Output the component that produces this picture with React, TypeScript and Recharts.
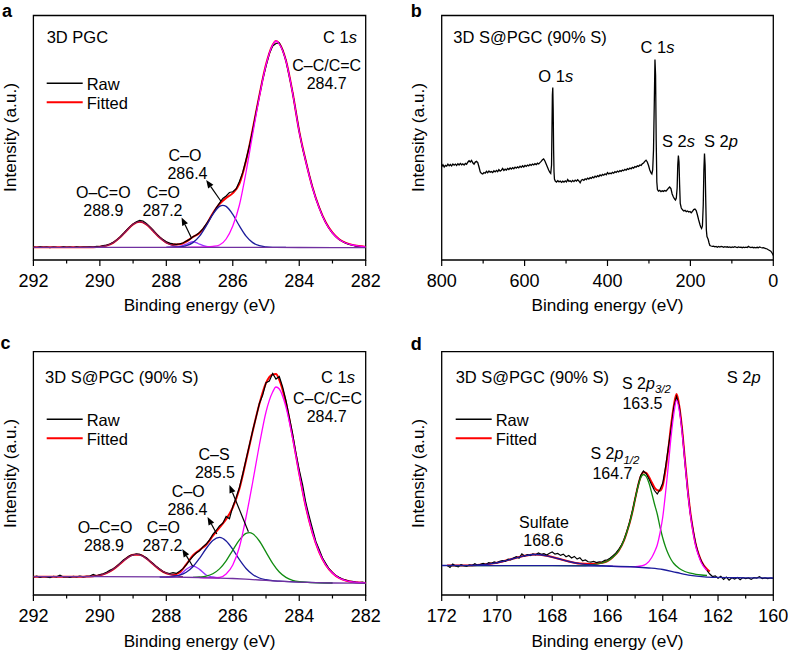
import React from 'react';
import { LineChart, Line, XAxis, YAxis, ReferenceArea, ReferenceLine } from 'recharts';

const FONT = '"Liberation Sans", Arial, Helvetica, sans-serif';

const C_RAW = '#000000';
const C_FIT = '#ff0000';
const C_MAG = '#ff00ff';
const C_NAVY = '#1c1c9c';
const C_VIOLET = '#9933ff';
const C_PURPLE = '#7030a0';
const C_OCO = '#8c1a5e';
const C_GREEN = '#118c11';

type Pt = [number, number];

// ---------- panel a : 3D PGC, C 1s (raw sampled every 0.1 eV from 292) ----------
const aRawV = [
  12.9, 12.5, 13.1, 12.6, 12.8, 12.4, 13.0, 12.7, 12.5, 13.2, 12.6, 12.9, 12.5, 13.1, 12.7, 13.0, 12.8, 13.2, 13.0, 13.6,
  13.4, 14.3, 14.9, 16.0, 17.6, 19.9, 22.9, 26.2, 29.9, 33.1, 36.0, 38.1, 39.6, 39.0, 36.6, 33.4, 30.2, 26.1, 23.0, 20.4,
  18.3, 16.9, 16.2, 15.6, 16.1, 17.0, 18.9, 20.6, 23.3, 25.0, 27.6, 31.2, 35.8, 41.0, 46.2, 52.0, 56.8, 61.5, 64.0, 67.5,
  68.2, 71.0, 78.5, 87.6, 100.5, 114.0, 130.0, 147.5, 164.0, 180.5, 194.0, 206.5, 214.0, 216.5, 217.0, 210.0, 199.5, 184.0, 167.5, 148.0,
  128.5, 112.0, 98.5, 85.0, 72.5, 61.5, 52.5, 44.0, 37.2, 31.5, 27.0, 23.4, 20.6, 18.5, 16.9, 15.6, 14.8, 13.9, 13.5, 13.0,
  12.6,
];
const aFit: Pt[] = [
  [292, 12.7], [290.6, 12.7], [290.4, 12.75], [290.2, 12.8], [290.0, 13.2], [289.8, 14.4], [289.6, 17.2], [289.4, 22.4],
  [289.2, 29.3], [289.0, 35.7], [288.8, 38.3], [288.6, 35.7], [288.4, 29.3], [288.2, 22.4], [288.0, 17.5], [287.8, 15.5],
  [287.6, 15.7], [287.4, 18.5], [287.2, 23.0], [287.0, 27.0], [286.8, 35.3], [286.6, 46.7], [286.4, 56.0], [286.2, 62.0],
  [286.0, 66.9], [285.8, 76.4], [285.6, 99.2], [285.4, 130.7], [285.2, 164.6], [285.0, 195.4], [284.8, 215.0], [284.7, 219.0],
  [284.6, 216.5], [284.4, 199.5], [284.2, 167.5], [284.0, 128.5], [283.8, 98.5], [283.6, 72.5], [283.4, 52.5], [283.2, 37.5],
  [283.0, 27.3], [282.8, 20.8], [282.6, 17.2], [282.4, 15.1], [282.2, 13.9], [282.0, 13.1],
];
const aMain: Pt[] = [
  [287.4, 12.7], [287.0, 12.8], [286.8, 13.0], [286.6, 13.6], [286.4, 15.0], [286.2, 21.0], [286.0, 34.0], [285.8, 55.0],
  [285.6, 88.0], [285.4, 126.0], [285.2, 163.0], [285.0, 195.0], [284.8, 215.0], [284.7, 219.0], [284.6, 216.0], [284.4, 199.0],
  [284.2, 167.0], [284.0, 128.0], [283.8, 98.0], [283.6, 72.0], [283.4, 52.0], [283.2, 37.0], [283.0, 27.0], [282.8, 20.5],
  [282.6, 17.0], [282.4, 15.0], [282.2, 13.8], [282.0, 13.0],
];
const aCO: Pt[] = [
  [288.0, 12.7], [287.8, 12.8], [287.6, 13.1], [287.4, 14.3], [287.2, 17.4], [287.0, 23.9], [286.8, 34.1], [286.6, 45.6],
  [286.4, 53.6], [286.3, 54.7], [286.2, 53.6], [286.0, 45.6], [285.8, 34.1], [285.6, 23.9], [285.4, 17.4], [285.2, 14.3],
  [285.0, 13.1], [284.8, 12.7], [284.4, 12.6],
];
const aCdO: Pt[] = [
  [288.0, 12.7], [287.8, 12.8], [287.6, 13.5], [287.4, 15.8], [287.3, 17.3], [287.2, 18.3], [287.1, 17.3], [287.0, 15.8],
  [286.8, 13.5], [286.6, 12.8], [286.4, 12.7],
];
const aOCO: Pt[] = [
  [290.4, 12.7], [290.2, 12.8], [290.0, 13.2], [289.8, 14.4], [289.6, 17.2], [289.4, 22.4], [289.2, 29.3], [289.0, 35.7],
  [288.8, 38.3], [288.6, 35.7], [288.4, 29.3], [288.2, 22.4], [288.0, 17.2], [287.8, 14.4], [287.6, 13.2], [287.4, 12.8],
];
const aBase: Pt[] = [[292, 12.7], [287, 12.7], [284, 12.5], [282, 12.3]];

// ---------- panel b : survey ----------
const bSurvey: Pt[] = [
  [800, 93.5], [797, 95.2], [794, 93.0], [791, 94.6], [788, 93.8], [785, 95.8], [782, 94.2], [779, 95.5], [776, 94.0], [773, 96.0],
  [770, 94.8], [767, 95.9], [764, 94.5], [761, 96.3], [758, 95.0], [755, 96.6], [752, 95.2], [749, 96.1], [746, 94.9], [743, 96.5],
  [740, 95.6], [737, 97.8], [734, 99.2], [731, 98.0], [728, 99.6], [725, 97.2], [722, 95.8], [719, 97.9], [716, 98.6], [713, 97.5],
  [710, 93.0], [707, 88.0], [704, 86.5], [701, 86.0], [698, 87.5], [695, 86.8], [692, 88.6], [689, 87.2], [686, 89.0], [683, 87.8],
  [680, 88.4], [677, 87.4], [674, 89.2], [671, 88.1], [668, 89.6], [665, 88.3], [662, 90.4], [659, 88.9], [656, 89.8], [653, 91.5],
  [650, 89.6], [647, 90.8], [644, 89.9], [641, 91.6], [638, 90.5], [635, 92.0], [632, 90.9], [629, 92.4], [626, 91.3], [623, 92.9],
  [620, 91.8], [617, 93.1], [614, 92.2], [611, 93.8], [608, 92.6], [605, 94.2], [602, 93.0], [599, 94.5], [596, 93.6], [593, 95.0],
  [590, 94.1], [587, 95.6], [584, 94.6], [581, 96.0], [578, 95.1], [575, 96.3], [572, 95.4], [569, 96.8], [566, 96.0], [563, 97.4],
  [560, 98.6], [557, 100.2], [554, 101.0], [551, 99.0], [548, 96.0], [545, 93.0], [542, 90.0], [539, 87.5], [537, 86.5], [535, 95],
  [534, 130], [533, 165], [532, 172.5], [531, 150], [530, 110], [529, 88], [528, 81], [526, 79.0], [523, 78.0], [520, 79.4],
  [517, 78.2], [514, 79.0], [511, 77.6], [508, 78.8], [505, 77.9], [502, 79.2], [499, 78.0], [496, 80.4], [493, 78.6], [490, 79.3],
  [487, 78.1], [484, 79.6], [481, 78.4], [478, 79.9], [475, 78.8], [472, 80.2], [469, 79.0], [466, 77.2], [463, 79.8], [460, 80.5],
  [457, 79.6], [454, 81.2], [451, 80.4], [448, 81.9], [445, 80.9], [442, 82.4], [439, 81.6], [436, 83.1], [433, 82.2], [430, 83.8],
  [427, 82.9], [424, 84.4], [421, 83.5], [418, 85.0], [415, 84.1], [412, 85.6], [409, 84.8], [406, 86.2], [403, 85.2], [400, 87.4],
  [397, 86.0], [394, 86.9], [391, 86.2], [388, 87.6], [385, 86.8], [382, 88.3], [379, 87.5], [376, 88.9], [373, 88.0], [370, 89.4],
  [367, 88.6], [364, 90.0], [361, 89.3], [358, 90.6], [355, 89.8], [352, 91.3], [349, 90.5], [346, 92.0], [343, 91.2], [340, 92.6],
  [337, 91.9], [334, 93.4], [331, 92.8], [328, 94.2], [325, 93.6], [322, 95.0], [319, 94.6], [316, 96.2], [313, 97.0], [310, 98.6],
  [307, 99.8], [304, 98.0], [301, 94.5], [298, 90.0], [295, 87.0], [293, 86.0], [291, 90.0], [289, 110], [287, 160], [285.5, 200.5],
  [284, 185], [282.5, 120], [281, 78], [279.5, 70.5], [277, 68.8], [274, 69.6], [271, 68.4], [268, 69.2], [265, 68.6], [262, 69.5],
  [259, 68.9], [256, 70.2], [253, 71.8], [250, 73.0], [247, 71.5], [244, 66.0], [241, 63.0], [238, 61.0], [236, 60.0], [234, 62.0],
  [232, 72], [230.5, 95], [229, 104.5], [227.5, 98], [226, 75], [224.5, 56.5], [222, 52.0], [219, 50.2], [216, 49.0], [213, 49.6],
  [210, 48.4], [207, 49.0], [204, 47.9], [201, 48.5], [198, 47.2], [195, 48.6], [192, 50.4], [189, 51.0], [186, 49.5], [183, 45.0],
  [180, 40.0], [177, 35.5], [175, 33.0], [173, 31.5], [171, 34.0], [169, 55], [167.5, 90], [166, 106.5], [164.5, 95], [163, 60],
  [161.5, 30], [160, 23.5], [158.5, 22.0], [157, 20.5], [155, 17.0], [153, 14.5], [150, 14.0], [147, 13.6], [144, 13.9], [141, 13.2],
  [138, 13.6], [135, 12.8], [132, 13.5], [129, 13.0], [126, 13.6], [123, 13.3], [120, 12.7], [117, 13.4], [114, 12.9], [111, 13.2],
  [108, 12.6], [105, 13.1], [102, 12.4], [99, 13.0], [96, 12.7], [93, 13.3], [90, 12.8], [87, 12.4], [84, 13.0], [81, 12.6],
  [78, 12.9], [75, 12.3], [72, 12.8], [69, 12.4], [66, 12.9], [63, 12.5], [60, 13.6], [57, 12.8], [54, 12.4], [51, 12.9],
  [48, 12.3], [45, 12.6], [42, 12.2], [39, 12.7], [36, 12.3], [33, 13.0], [30, 12.5], [27, 12.1], [24, 12.4], [21, 11.8],
  [18, 11.5], [15, 11.0], [12, 10.2], [9, 9.5], [6, 8.8], [3, 7.0], [1, 5.5], [0, 4.5],
];

// ---------- panel c : 3D S@PGC, C 1s (raw every 0.1 eV from 292) ----------
const cRawV = [
  18.0, 18.8, 17.6, 18.5, 18.1, 17.4, 18.7, 18.2, 19.9, 18.0, 18.4, 17.7, 18.6, 18.1, 18.9, 18.2, 18.7, 19.0, 20.5, 19.3,
  20.4, 21.2, 22.8, 24.6, 26.2, 28.5, 31.6, 34.9, 37.0, 39.4, 40.1, 41.2, 40.6, 39.0, 37.2, 34.0, 31.5, 28.4, 25.9, 23.4,
  22.2, 21.5, 22.3, 21.6, 23.8, 26.4, 30.2, 34.6, 38.7, 42.0, 44.2, 48.1, 51.0, 55.2, 60.6, 64.5, 69.0, 71.8, 78.6, 76.3,
  88.4, 97.2, 107.5, 121.0, 135.6, 149.8, 164.5, 177.6, 191.5, 200.0, 212.4, 214.0, 221.5, 216.0, 218.5, 208.0, 194.5, 178.0, 161.5, 142.0,
  125.0, 110.5, 92.0, 78.5, 66.0, 53.5, 45.5, 37.0, 31.5, 26.0, 22.6, 19.4, 17.6, 15.9, 15.0, 14.0, 13.6, 12.9, 12.5, 12.8,
  11.9,
];
const cFit: Pt[] = [
  [292, 18.3], [290.6, 18.35], [290.4, 18.4], [290.2, 18.8], [290.0, 19.7], [289.8, 21.9], [289.6, 25.6], [289.4, 31.0],
  [289.2, 36.6], [289.0, 40.2], [288.8, 40.2], [288.6, 36.6], [288.4, 30.9], [288.2, 25.4], [288.0, 21.6], [287.8, 20.2],
  [287.6, 22.5], [287.4, 30.6], [287.2, 39.5], [287.0, 45.0], [286.8, 50.3], [286.6, 59.1], [286.4, 67.4], [286.2, 75.9],
  [286.0, 87.5], [285.8, 106.2], [285.6, 134.5], [285.4, 163.9], [285.2, 191.0], [285.0, 212.0], [284.8, 220.5], [284.7, 221.0],
  [284.6, 215.2], [284.4, 192.2], [284.2, 158.6], [284.0, 121.5], [283.8, 88.0], [283.6, 62.0], [283.4, 43.0], [283.2, 30.0],
  [283.0, 22.0], [282.8, 17.0], [282.6, 14.5], [282.4, 13.0], [282.0, 12.0],
];
const cMain: Pt[] = [
  [287.0, 17.5], [286.6, 17.2], [286.4, 17.5], [286.2, 21.0], [286.0, 30.0], [285.8, 48.0], [285.6, 78.0], [285.4, 113.0],
  [285.2, 150.0], [285.0, 183.0], [284.8, 203.0], [284.7, 208.0], [284.6, 206.0], [284.4, 188.0], [284.2, 157.0], [284.0, 121.0],
  [283.8, 88.0], [283.6, 62.0], [283.4, 43.0], [283.2, 30.0], [283.0, 22.0], [282.8, 17.0], [282.6, 14.5], [282.4, 13.0],
  [282.0, 12.0],
];
const cCS: Pt[] = [
  [287.2, 17.6], [287.0, 18.0], [286.8, 18.9], [286.6, 21.3], [286.4, 26.1], [286.2, 34.2], [286.0, 44.8], [285.8, 55.1],
  [285.6, 61.6], [285.5, 62.3], [285.4, 61.2], [285.2, 54.0], [285.0, 42.9], [284.8, 31.7], [284.6, 23.0], [284.4, 17.6],
  [284.2, 14.7], [284.0, 13.3], [283.6, 12.4], [283.0, 12.0],
];
const cCO: Pt[] = [
  [288.2, 18.0], [288.0, 18.0], [287.8, 18.6], [287.6, 19.8], [287.4, 22.8], [287.2, 28.3], [287.0, 36.7], [286.8, 46.5],
  [286.6, 54.5], [286.4, 57.6], [286.2, 54.1], [286.0, 45.7], [285.8, 35.3], [285.6, 26.5], [285.4, 20.5], [285.2, 17.0],
  [285.0, 15.3], [284.8, 14.3], [284.6, 13.8], [283.0, 12.0],
];
const cCdO: Pt[] = [
  [288.0, 18.0], [287.8, 18.0], [287.6, 20.0], [287.4, 25.6], [287.2, 29.0], [287.0, 25.6], [286.8, 20.0], [286.6, 18.0],
  [286.4, 17.2],
];
const cOCO: Pt[] = [
  [290.5, 18.4], [290.3, 18.6], [290.1, 19.2], [289.9, 20.6], [289.7, 23.5], [289.5, 28.2], [289.3, 33.9], [289.1, 38.7],
  [288.9, 40.7], [288.7, 38.7], [288.5, 33.9], [288.3, 28.2], [288.1, 23.5], [287.9, 20.6], [287.7, 19.2], [287.5, 18.3],
];
const cBase: Pt[] = [
  [292, 18.3], [290, 18.3], [288, 18.0], [287, 17.5], [286, 16.5], [285.5, 15.6], [285, 14.6], [284.5, 13.6],
  [284, 12.8], [283.5, 12.3], [283, 12.0], [282, 11.7],
];

// ---------- panel d : 3D S@PGC, S 2p (raw every 0.1 eV from 171.8) ----------
const dRawV = [
  29.8, 27.6, 31.0, 29.0, 28.2, 30.4, 29.3, 28.6, 30.1, 29.4, 31.2, 29.8, 30.6, 31.7, 30.5, 32.4, 31.6, 33.0, 32.2, 33.8,
  34.5, 33.6, 35.8, 35.1, 36.9, 38.4, 36.8, 41.2, 39.0, 40.3, 39.5, 41.0, 40.2, 42.1, 40.6, 41.4, 40.0, 41.7, 43.0, 40.8,
  41.5, 39.6, 40.9, 38.2, 39.5, 37.0, 38.6, 35.9, 37.2, 34.1, 35.0, 33.2, 32.8, 33.5, 32.4, 33.1, 33.0, 34.6, 35.2, 37.0,
  39.4, 41.8, 45.3, 49.6, 55.6, 63.5, 72.8, 84.0, 96.5, 109.0, 119.5, 124.0, 121.5, 116.0, 110.0, 104.5, 101.0, 105.5, 112.0, 128.0,
  147.5, 166.0, 188.0, 198.5, 188.0, 165.0, 134.0, 104.5, 81.0, 64.5, 50.0, 40.0, 33.5, 28.5, 24.5, 21.0, 18.5, 19.2, 16.8, 18.6,
  15.5, 17.9, 14.8, 17.2, 16.0, 17.6, 15.2, 17.4, 16.3, 17.0, 15.6, 17.3, 16.9, 18.2, 16.5, 17.1, 16.4, 17.0, 16.6,
];
const dFit: Pt[] = [
  [171.8, 29.5], [171.0, 29.6], [170.6, 30.2], [170.2, 31.4], [169.8, 33.5], [169.4, 36.5], [169.0, 39.2], [168.6, 40.5],
  [168.2, 39.2], [167.8, 36.5], [167.4, 33.5], [167.0, 31.4], [166.6, 30.9], [166.2, 32.2], [166.0, 34.0], [165.8, 38.1],
  [165.6, 44.1], [165.4, 54.9], [165.3, 62.9], [165.2, 71.9], [165.1, 83.0], [165.0, 96.2], [164.9, 108.6], [164.8, 118.3],
  [164.7, 122.8], [164.6, 122.2], [164.5, 118.0], [164.4, 112.7], [164.3, 107.5], [164.2, 104.8], [164.1, 104.3], [164.0, 109.5],
  [163.9, 125.0], [163.8, 145.5], [163.7, 169.5], [163.6, 189.2], [163.5, 201.0], [163.4, 188.5], [163.3, 165.6], [163.2, 135.7],
  [163.1, 106.4], [163.0, 82.1], [162.9, 63.9], [162.8, 49.8], [162.7, 40.8], [162.6, 33.6], [162.4, 25.9], [162.3, 23.5],
];
const dSulfate: Pt[] = [
  [171.0, 29.6], [170.6, 30.2], [170.2, 31.4], [169.8, 33.5], [169.4, 36.5], [169.0, 39.2], [168.6, 40.5], [168.2, 39.2],
  [167.8, 36.5], [167.4, 33.5], [167.0, 31.3], [166.6, 30.0], [166.2, 29.3], [165.8, 28.7],
];
const dP12: Pt[] = [
  [171.8, 29.3], [167.0, 29.3], [166.6, 30.0], [166.2, 32.0], [166.0, 34.0], [165.8, 38.0], [165.6, 44.0], [165.4, 55.0],
  [165.3, 63.0], [165.2, 72.0], [165.1, 83.0], [165.0, 96.0], [164.9, 108.0], [164.8, 117.0], [164.7, 120.5], [164.6, 118.5],
  [164.5, 112.0], [164.4, 102.0], [164.3, 91.0], [164.2, 81.0], [164.1, 68.0], [164.0, 57.0], [163.9, 48.0], [163.8, 41.0],
  [163.7, 35.5], [163.6, 31.5], [163.4, 26.5], [163.2, 23.5], [163.0, 21.8], [162.8, 20.7], [162.6, 20.0], [162.4, 19.5],
];
const dP32: Pt[] = [
  [166.0, 28.8], [165.4, 28.4], [165.0, 28.4], [164.8, 29.0], [164.6, 31.0], [164.4, 37.5], [164.3, 43.0], [164.2, 50.0],
  [164.1, 62.0], [164.0, 78.0], [163.9, 102.0], [163.8, 129.0], [163.7, 158.0], [163.6, 181.0], [163.5, 195.0], [163.4, 184.0],
  [163.3, 162.0], [163.2, 133.0], [163.1, 104.0], [163.0, 80.0], [162.9, 62.0], [162.8, 48.0], [162.7, 39.0], [162.6, 32.0],
  [162.4, 24.5],
];
const dBase: Pt[] = [
  [172, 29.5], [168, 29.3], [166, 28.8], [165, 28.0], [164.5, 27.0], [164, 25.5], [163.5, 22.5], [163, 19.7],
  [162.5, 18.2], [162, 17.6], [161, 17.2], [160, 17.0],
];

const cTicks = [282, 283, 284, 285, 286, 287, 288, 289, 290, 291, 292];
const sTicks = [160, 161, 162, 163, 164, 165, 166, 167, 168, 169, 170, 171, 172];
const bTicks = [0, 100, 200, 300, 400, 500, 600, 700, 800];

const toPts = (arr: Pt[]) => arr.map(([e, v]) => ({ e, v }));
const gridPts = (start: number, vals: number[]) =>
  vals.map((v, i) => ({ e: Math.round((start - i * 0.1) * 100) / 100, v }));

const makeTick = (isMajor: (v: number) => boolean) => (props: any) => {
  const { x, y, payload } = props;
  const major = isMajor(payload.value);
  return (
    <g>
      <line x1={x} y1={y} x2={x} y2={y + (major ? 6 : 3.5)} stroke="#000" strokeWidth={1.2} />
      {major && (
        <text x={x} y={y + 27} textAnchor="middle" fontSize={18} fontFamily={FONT} fill="#000">
          {payload.value}
        </text>
      )}
    </g>
  );
};

const ArrowShape = (p: any) => {
  const { x1, y1, x2, y2 } = p;
  const ang = Math.atan2(y2 - y1, x2 - x1);
  const L = 8;
  const W = 3.2;
  const bx = x2 - L * Math.cos(ang);
  const by = y2 - L * Math.sin(ang);
  const pts = `${x2},${y2} ${bx - W * Math.sin(ang)},${by + W * Math.cos(ang)} ${bx + W * Math.sin(ang)},${by - W * Math.cos(ang)}`;
  return (
    <g>
      <line x1={x1} y1={y1} x2={bx} y2={by} stroke="#000" strokeWidth={1.2} />
      <polygon points={pts} fill="#000" />
    </g>
  );
};

interface SeriesDef {
  data: { e: number; v: number }[];
  color: string;
  width: number;
  linear?: boolean;
}

interface PanelProps {
  left: number;
  top: number;
  height: number;
  margin: { top: number; right: number; bottom: number; left: number };
  domain: [number, number];
  ticks: number[];
  isMajor: (v: number) => boolean;
  yMax: number;
  series: SeriesDef[];
  arrows?: [Pt, Pt][];
}

function Panel({ left, top, height, margin, domain, ticks, isMajor, yMax, series, arrows = [] }: PanelProps) {
  return (
    <div style={{ position: 'absolute', left, top }}>
      <LineChart width={394} height={height} margin={margin}>
        <XAxis
          type="number"
          dataKey="e"
          domain={domain}
          reversed
          allowDataOverflow
          ticks={ticks}
          interval={0}
          tickSize={0}
          tickMargin={0}
          tickLine={false}
          axisLine={false}
          height={40}
          tick={makeTick(isMajor)}
        />
        <YAxis type="number" hide domain={[0, yMax]} allowDataOverflow />
        <ReferenceArea
          x1={domain[0]}
          x2={domain[1]}
          y1={0}
          y2={yMax}
          fill="none"
          stroke="#000"
          strokeWidth={1.3}
          ifOverflow="visible"
        />
        {series.map((s, i) => (
          <Line
            key={i}
            data={s.data}
            dataKey="v"
            type={s.linear ? 'linear' : 'monotone'}
            stroke={s.color}
            strokeWidth={s.width}
            dot={false}
            activeDot={false}
            isAnimationActive={false}
          />
        ))}
        {arrows.map((a, i) => (
          <ReferenceLine
            key={'arrow' + i}
            segment={[{ x: a[0][0], y: a[0][1] }, { x: a[1][0], y: a[1][1] }]}
            ifOverflow="visible"
            shape={ArrowShape}
          />
        ))}
      </LineChart>
    </div>
  );
}

const T = ({ x, y, anchor = 'start', size = 16.5, bold = false, children }: any) => (
  <text x={x} y={y} textAnchor={anchor} fontSize={size} fontWeight={bold ? 'bold' : 'normal'} fontFamily={FONT} fill="#000">
    {children}
  </text>
);

// two-line annotation: each line its own text, 18px apart so their boxes don't collide
const T2 = ({ x1, y1, a1 = 'middle', l1, x2, y2, a2 = 'middle', l2 }: any) => (
  <g>
    <T x={x1} y={y1} anchor={a1} size={16}>{l1}</T>
    <T x={x2} y={y2} anchor={a2} size={16}>{l2}</T>
  </g>
);

const I = ({ children }: any) => <tspan fontStyle="italic">{children}</tspan>;

const YTitle = ({ x, y }: { x: number; y: number }) => (
  <text x={x} y={y} transform={`rotate(-90 ${x} ${y})`} textAnchor="middle" fontSize={17.2} fontFamily={FONT} fill="#000">
    Intensity (a.u.)
  </text>
);

const XTitle = ({ x, y }: { x: number; y: number }) => (
  <text x={x} y={y} textAnchor="middle" fontSize={17.2} fontFamily={FONT} fill="#000">
    Binding energy (eV)
  </text>
);

const LegendBox = ({ x, y }: { x: number; y: number }) => (
  <g>
    <line x1={x} y1={y} x2={x + 36} y2={y} stroke={C_RAW} strokeWidth={1.6} />
    <line x1={x} y1={y + 19} x2={x + 36} y2={y + 19} stroke={C_FIT} strokeWidth={2} />
    <T x={x + 40} y={y + 6.5}>Raw</T>
    <T x={x + 40} y={y + 25.5}>Fitted</T>
  </g>
);

const evenMajor = (v: number) => v % 2 === 0;
const surveyMajor = (v: number) => v % 200 === 0;

export default function App() {
  const rawA = gridPts(292, aRawV);
  const rawC = gridPts(292, cRawV);
  const rawD = gridPts(171.8, dRawV);

  return (
    <div style={{ position: 'relative', width: 788, height: 651, overflow: 'hidden', background: '#fff' }}>
      <style>{'body{margin:0;}'}</style>

      <Panel
        left={0}
        top={0}
        height={300}
        margin={{ top: 15.5, right: 28.3, bottom: 0, left: 33.4 }}
        domain={[282, 292]}
        ticks={cTicks}
        isMajor={evenMajor}
        yMax={244.5}
        series={[
          { data: toPts(aFit), color: C_FIT, width: 2 },
          { data: rawA, color: C_RAW, width: 1.2, linear: true },
          { data: toPts(aOCO), color: C_OCO, width: 1.3 },
          { data: toPts(aCdO), color: C_VIOLET, width: 1.3 },
          { data: toPts(aCO), color: C_NAVY, width: 1.3 },
          { data: toPts(aMain), color: C_MAG, width: 1.3 },
          { data: toPts(aBase), color: C_PURPLE, width: 1.3 },
        ]}
        arrows={[
          [[287.24, 21.7], [287.54, 42.5]],
          [[286.36, 59], [286.8, 80]],
        ]}
      />

      <Panel
        left={394}
        top={0}
        height={300}
        margin={{ top: 15.5, right: 14.7, bottom: 0, left: 47.7 }}
        domain={[0, 800]}
        ticks={bTicks}
        isMajor={surveyMajor}
        yMax={244.5}
        series={[{ data: toPts(bSurvey), color: C_RAW, width: 1.3, linear: true }]}
      />

      <Panel
        left={0}
        top={320}
        height={315}
        margin={{ top: 31.7, right: 28.3, bottom: 0, left: 33.4 }}
        domain={[282, 292]}
        ticks={cTicks}
        isMajor={evenMajor}
        yMax={243.3}
        series={[
          { data: toPts(cFit), color: C_FIT, width: 2 },
          { data: rawC, color: C_RAW, width: 1.2, linear: true },
          { data: toPts(cOCO), color: C_OCO, width: 1.3 },
          { data: toPts(cCdO), color: C_VIOLET, width: 1.3 },
          { data: toPts(cCO), color: C_NAVY, width: 1.3 },
          { data: toPts(cCS), color: C_GREEN, width: 1.3 },
          { data: toPts(cMain), color: C_MAG, width: 1.3 },
          { data: toPts(cBase), color: C_PURPLE, width: 1.3 },
        ]}
        arrows={[
          [[287.21, 29], [287.52, 46]],
          [[286.48, 61], [286.76, 78]],
          [[285.53, 63.3], [286.1, 110]],
        ]}
      />

      <Panel
        left={394}
        top={320}
        height={315}
        margin={{ top: 31.7, right: 14.7, bottom: 0, left: 47.7 }}
        domain={[160, 172]}
        ticks={sTicks}
        isMajor={evenMajor}
        yMax={243.3}
        series={[
          { data: toPts(dFit), color: C_FIT, width: 2 },
          { data: rawD, color: C_RAW, width: 1.2, linear: true },
          { data: toPts(dP12), color: C_GREEN, width: 1.3 },
          { data: toPts(dP32), color: C_MAG, width: 1.3 },
          { data: toPts(dSulfate), color: C_NAVY, width: 1.3 },
          { data: toPts(dBase), color: C_NAVY, width: 1.3 },
        ]}
      />

      <svg width={788} height={651} style={{ position: 'absolute', left: 0, top: 0, pointerEvents: 'none' }}>
        {/* panel a */}
        <T x={2} y={16.5} size={18} bold>a</T>
        <T x={46.7} y={43.3}>3D PGC</T>
        <T x={357} y={43.3} anchor="end">C 1<I>s</I></T>
        <T2 x1={326.7} y1={71} l1="C–C/C=C" x2={326.7} y2={89} l2="284.7" />
        <LegendBox x={46.7} y={83.3} />
        <T2 x1={185} y1={160.5} l1="C–O" x2={187.5} y2={178.5} l2="286.4" />
        <T2 x1={103.3} y1={197.5} l1="O–C=O" x2={103.3} y2={215.5} l2="288.9" />
        <T2 x1={163.3} y1={197.5} l1="C=O" x2={162.5} y2={215.5} l2="287.2" />
        <YTitle x={15.5} y={137.5} />
        <XTitle x={199.6} y={311} />

        {/* panel b */}
        <T x={410.7} y={16.5} size={18} bold>b</T>
        <T x={453.3} y={43.3}>3D S@PGC (90% S)</T>
        <T x={555.7} y={81.7} anchor="middle">O 1<I>s</I></T>
        <T x={657.5} y={53.3} anchor="middle">C 1<I>s</I></T>
        <T x={678.5} y={146.7} anchor="middle">S 2<I>s</I></T>
        <T x={721} y={146.7} anchor="middle">S 2<I>p</I></T>
        <YTitle x={423.5} y={137.5} />
        <XTitle x={607.5} y={311} />

        {/* panel c */}
        <T x={0.5} y={348.5} size={18} bold>c</T>
        <T x={45} y={383.3}>3D S@PGC (90% S)</T>
        <T x={355} y={383.3} anchor="end">C 1<I>s</I></T>
        <T2 x1={327.5} y1={404.3} l1="C–C/C=C" x2={326.7} y2={422.3} l2="284.7" />
        <LegendBox x={46.7} y={419.3} />
        <T2 x1={214} y1={460} l1="C–S" x2={215} y2={478} l2="285.5" />
        <T2 x1={188.3} y1={496.5} l1="C–O" x2={187.5} y2={514.5} l2="286.4" />
        <T2 x1={105} y1={532.5} l1="O–C=O" x2={104} y2={550.5} l2="288.9" />
        <T2 x1={163.3} y1={532.5} l1="C=O" x2={162.5} y2={550.5} l2="287.2" />
        <YTitle x={15.5} y={473.5} />
        <XTitle x={199.6} y={646.5} />

        {/* panel d */}
        <T x={410.7} y={350} size={18} bold>d</T>
        <T x={455.7} y={383.3}>3D S@PGC (90% S)</T>
        <T x={760.7} y={383.3} anchor="end">S 2<I>p</I></T>
        <LegendBox x={455.7} y={419.3} />
        <T2
          x1={622}
          y1={388.5}
          a1="start"
          l1={<>S 2<I>p</I><tspan fontSize={11.5} dy={4.5} fontStyle="italic">3/2</tspan></>}
          x2={642.5}
          y2={409}
          l2="163.5"
        />
        <T2
          x1={590.5}
          y1={459}
          a1="start"
          l1={<>S 2<I>p</I><tspan fontSize={11.5} dy={4.5} fontStyle="italic">1/2</tspan></>}
          x2={612.5}
          y2={479}
          l2="164.7"
        />
        <T2 x1={544} y1={528} l1="Sulfate" x2={543.3} y2={546} l2="168.6" />
        <YTitle x={423.5} y={473.5} />
        <XTitle x={607.5} y={646.5} />
      </svg>
    </div>
  );
}
